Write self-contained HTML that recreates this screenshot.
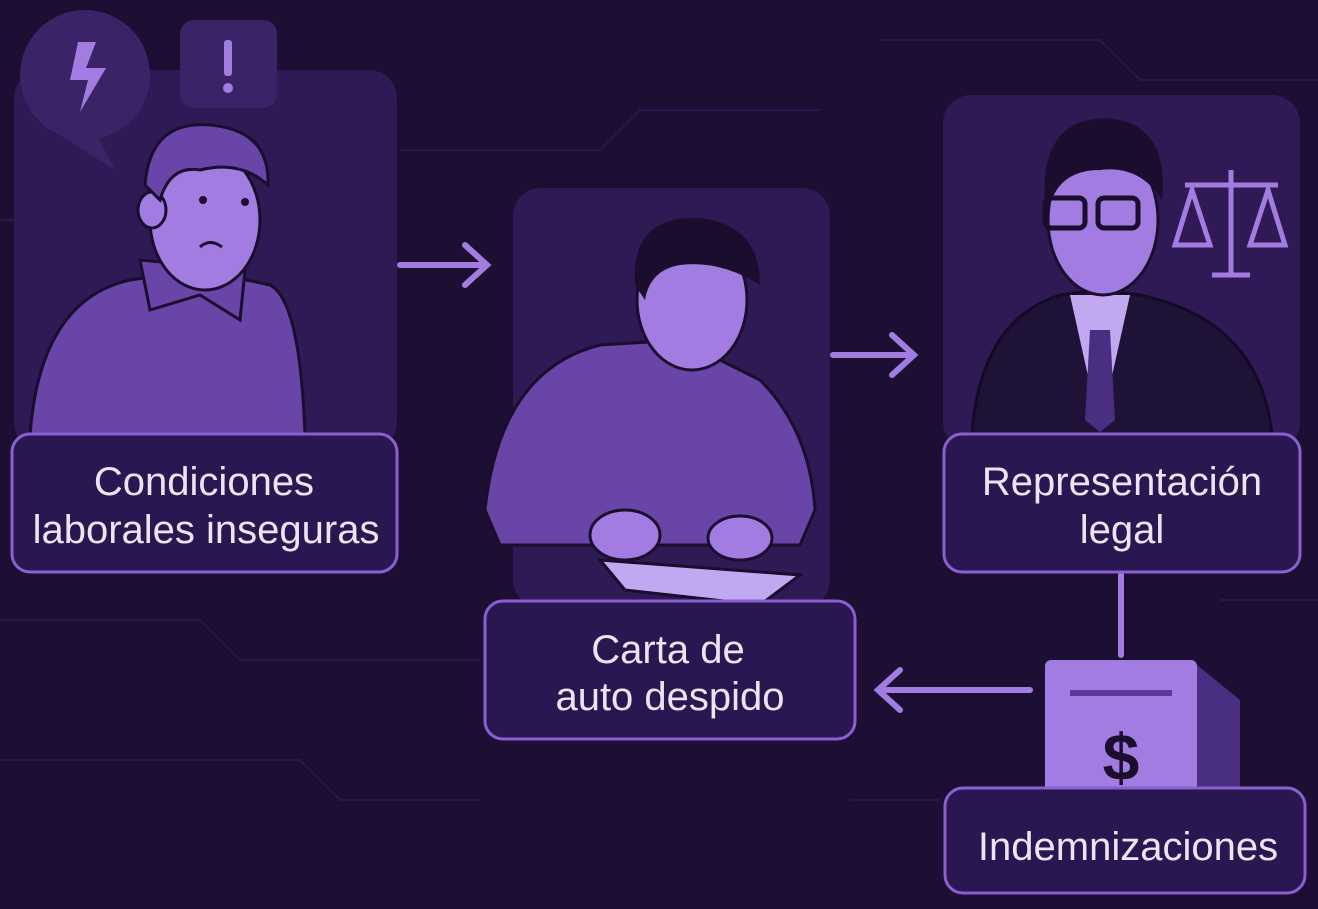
<!DOCTYPE html>
<html><head><meta charset="utf-8"><style>
html,body{margin:0;padding:0;background:#1c0f33;}
svg{display:block}
text{font-family:"Liberation Sans",sans-serif;fill:#ece4f5;text-anchor:middle;font-size:40px}
</style></head><body>
<svg width="1318" height="909" viewBox="0 0 1318 909" xmlns="http://www.w3.org/2000/svg">
<rect width="1318" height="909" fill="#1c0f33"/>
<g stroke="#27174a" stroke-width="2" fill="none">
<path d="M0 220 H120 L160 180 H300"/><path d="M400 150 H600 L640 110 H820"/><path d="M0 620 H200 L240 660 H480"/>
<path d="M850 800 H940"/><path d="M0 760 H300 L340 800 H480"/><path d="M1220 600 H1318"/><path d="M880 40 H1100 L1140 80 H1318"/>
</g>
<!-- panel1 -->
<rect x="14" y="70" width="383" height="380" rx="28" fill="#2f1a55"/>
<circle cx="85" cy="75" r="65" fill="#3b2368"/><path d="M92 125 L115 170 L60 135Z" fill="#3b2368"/>
<path d="M78 42 L96 42 L86 68 L106 68 L80 112 L88 80 L70 80Z" fill="#a27ce0"/>
<rect x="180" y="20" width="97" height="88" rx="14" fill="#3b2368"/>
<rect x="224" y="40" width="8" height="36" rx="3" fill="#a27ce0"/><circle cx="228" cy="88" r="5" fill="#a27ce0"/>
<path d="M30 435 Q40 300 130 280 L200 270 L270 285 Q300 300 305 435Z" fill="#6a45a8" stroke="#1a0d2e" stroke-width="3"/>
<path d="M140 260 L150 310 L200 295 L240 320 L245 270Z" fill="#6a45a8" stroke="#1a0d2e" stroke-width="3"/>
<ellipse cx="205" cy="220" rx="55" ry="70" fill="#a27ce0" stroke="#1a0d2e" stroke-width="3"/>
<ellipse cx="152" cy="210" rx="14" ry="18" fill="#a27ce0" stroke="#1a0d2e" stroke-width="3"/>
<path d="M145 185 Q150 120 210 125 Q270 130 268 185 Q240 160 200 170 Q170 165 160 200Z" fill="#6a45a8" stroke="#1a0d2e" stroke-width="3"/>
<circle cx="203" cy="200" r="4" fill="#1a0d2e"/><circle cx="245" cy="202" r="4" fill="#1a0d2e"/>
<path d="M200 247 Q210 238 222 247" stroke="#1a0d2e" stroke-width="3" fill="none"/>
<rect x="12" y="434" width="385" height="138" rx="18" fill="#2a1650" stroke="#8a5fd0" stroke-width="3"/>
<text x="204" y="495">Condiciones</text><text x="206" y="543">laborales inseguras</text>
<!-- arrows -->
<g stroke="#a27ce0" stroke-width="6" fill="none" stroke-linecap="round">
<path d="M400 265 H485 M465 245 L487 265 L465 285"/>
<path d="M833 355 H912 M892 335 L914 355 L892 375"/>
<path d="M1030 690 H880 M900 670 L878 690 L900 710"/>
<path d="M1121 575 V655"/>
</g>
<!-- panel2 -->
<rect x="513" y="188" width="317" height="420" rx="28" fill="#2f1a55"/>
<path d="M485 510 Q500 370 600 345 L680 340 L760 380 Q810 430 815 510 L800 545 L500 545Z" fill="#6a45a8" stroke="#1a0d2e" stroke-width="3"/>
<ellipse cx="692" cy="300" rx="55" ry="70" fill="#a27ce0" stroke="#1a0d2e" stroke-width="3"/>
<path d="M635 285 Q630 215 700 218 Q760 225 760 285 Q720 260 680 265 Q650 270 645 300Z" fill="#1a0d2e"/>
<path d="M600 560 L800 575 L760 605 L625 590Z" fill="#c2a8f0" stroke="#1a0d2e" stroke-width="3"/>
<ellipse cx="625" cy="535" rx="35" ry="25" fill="#a27ce0" stroke="#1a0d2e" stroke-width="3"/>
<ellipse cx="740" cy="538" rx="32" ry="22" fill="#a27ce0" stroke="#1a0d2e" stroke-width="3"/>
<rect x="485" y="601" width="370" height="138" rx="18" fill="#2a1650" stroke="#8a5fd0" stroke-width="3"/>
<text x="668" y="663">Carta de</text><text x="670" y="710">auto despido</text>
<!-- panel3 -->
<rect x="943" y="95" width="357" height="355" rx="28" fill="#2f1a55"/>
<path d="M972 435 Q980 320 1060 295 L1100 290 L1140 295 Q1260 320 1272 435Z" fill="#1e1236" stroke="#140a26" stroke-width="3"/>
<path d="M1070 295 L1100 430 L1130 295Z" fill="#c2a8f0"/><path d="M1090 330 L1110 330 L1115 420 L1100 432 L1085 420Z" fill="#4a2e82"/>
<ellipse cx="1103" cy="220" rx="55" ry="75" fill="#a27ce0" stroke="#1a0d2e" stroke-width="3"/>
<path d="M1045 200 Q1040 120 1105 118 Q1170 122 1162 200 Q1140 165 1100 170 Q1060 170 1050 205Z" fill="#1a0d2e"/>
<g stroke="#1a0d2e" stroke-width="5" fill="none"><rect x="1045" y="198" width="40" height="30" rx="6"/><rect x="1098" y="198" width="40" height="30" rx="6"/></g>
<g stroke="#a27ce0" stroke-width="5" fill="none"><path d="M1185 185 H1278 M1231 170 V275 M1212 275 H1250"/><path d="M1175 245 L1192 190 L1210 245Z M1250 245 L1268 190 L1285 245Z"/></g>
<rect x="944" y="434" width="356" height="138" rx="18" fill="#2a1650" stroke="#8a5fd0" stroke-width="3"/>
<text x="1122" y="495">Representación</text><text x="1122" y="543">legal</text>
<!-- money box -->
<path d="M1197 665 L1240 700 L1240 810 L1197 810Z" fill="#4a2e82"/>
<rect x="1045" y="660" width="152" height="155" rx="6" fill="#a27ce0"/>
<rect x="1070" y="690" width="102" height="6" fill="#5a3a96"/>
<text x="1121" y="780" style="font-size:66px;font-weight:bold;fill:#1a0d2e">$</text>
<rect x="945" y="788" width="360" height="105" rx="18" fill="#2a1650" stroke="#8a5fd0" stroke-width="3"/>
<text x="1128" y="860">Indemnizaciones</text>
</svg>
</body></html>
